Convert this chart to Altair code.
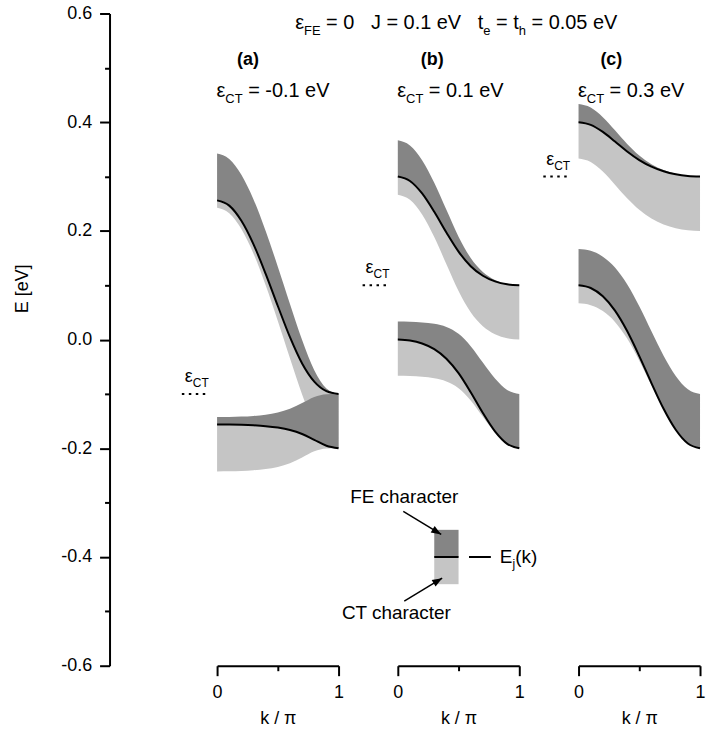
import math
import altair as alt
import pandas as pd

F = "Liberation Sans"

# ---------------- data ----------------
K = [0.0, 0.1, 0.2, 0.3, 0.4, 0.5, 0.6, 0.7, 0.8, 0.9, 1.0]
E_CT = [-0.1, 0.1, 0.3]
TAGS = ["(a)", "(b)", "(c)"]
CT_VALUE_TEXT = [" = -0.1 eV", " = 0.1 eV", " = 0.3 eV"]

# band energies E_j(k) [eV], upper and lower band for each panel
E_UP = [
    [0.2562, 0.2465, 0.2186, 0.1753, 0.1210, 0.0618, 0.0044, -0.0440, -0.0774, -0.0949, -0.1000],
    [0.3000, 0.2919, 0.2689, 0.2351, 0.1969, 0.1618, 0.1351, 0.1175, 0.1071, 0.1017, 0.1000],
    [0.4000, 0.3952, 0.3821, 0.3644, 0.3461, 0.3303, 0.3182, 0.3097, 0.3041, 0.3010, 0.3000],
]
E_LO = [
    [-0.1562, -0.1563, -0.1568, -0.1577, -0.1592, -0.1618, -0.1662, -0.1736, -0.1844, -0.1953, -0.2000],
    [0.0000, -0.0017, -0.0071, -0.0175, -0.0351, -0.0618, -0.0969, -0.1351, -0.1689, -0.1919, -0.2000],
    [0.1000, 0.0950, 0.0797, 0.0533, 0.0158, -0.0303, -0.0800, -0.1273, -0.1659, -0.1912, -0.2000],
]
# FE character (weight) of each band; CT character = 1 - FE
FE_UP = [
    [0.864, 0.860, 0.849, 0.827, 0.789, 0.724, 0.612, 0.432, 0.211, 0.051, 0.0],
    [0.667, 0.654, 0.612, 0.535, 0.418, 0.276, 0.151, 0.069, 0.026, 0.006, 0.0],
    [0.333, 0.317, 0.272, 0.207, 0.139, 0.084, 0.046, 0.022, 0.009, 0.002, 0.0],
]
FE_LO = [
    [0.136, 0.140, 0.151, 0.173, 0.211, 0.276, 0.388, 0.568, 0.789, 0.949, 1.0],
    [0.333, 0.346, 0.388, 0.465, 0.582, 0.724, 0.849, 0.931, 0.974, 0.994, 1.0],
    [0.667, 0.683, 0.728, 0.793, 0.861, 0.916, 0.954, 0.978, 0.991, 0.998, 1.0],
]
BAND_W = 0.1  # total width of a character band [eV]

# legend (in panel (b) data units)
LEG_K = [0.3, 0.5]
LEG_E = [-0.35, -0.40, -0.45]
EJ_LINE_K = [0.586, 0.766]
EJ_TEXT_K = 0.84
ARROWS = [  # k0, E0, k1, E1 (arrow tip at k1, E1)
    (0.045, -0.316, 0.357, -0.3585),
    (0.053, -0.481, 0.365, -0.439),
]

# ---------------- layout constants ----------------
W_PANEL = 122
H_PANEL = 655
PX_K = W_PANEL / 1.0
PX_E = H_PANEL / 1.2
DARK = "#858585"
LIGHT = "#c5c5c5"
FS = 18
NB = "\u00a0"

AW = {' ': 278, NB: 278, '=': 584, '.': 278, '-': 333, 'e': 556, 'V': 667,
      'J': 500, 't': 278, 'h': 556, 'F': 611, 'E': 667, 'C': 722, 'T': 611,
      'j': 222, '(': 333, ')': 333, 'k': 500}


def tw(s, size):
    return sum(AW.get(c, 556) for c in s) * size / 1000.0


# ---------------- tables ----------------
band_rows = []
for p in range(3):
    for band, E, FEw in (("up", E_UP[p], FE_UP[p]), ("lo", E_LO[p], FE_LO[p])):
        for k, e, w in zip(K, E, FEw):
            band_rows.append(dict(panel=p, band=band, k=k, E=e,
                                  lo=e - BAND_W * (1 - w), hi=e + BAND_W * w))
bands = pd.DataFrame(band_rows)


def rich(panel, parts, k0, e0, size, sub, subdy):
    rows = []
    off = 0.0
    for text, kind in parts:
        if kind == "eps":
            rows.append(dict(panel=panel, k=k0, E=e0, t=text, kind=kind, fs=size, dy=0))
            continue
        fs = sub if kind == "sub" else size
        lead = len(text) - len(text.lstrip(" "))
        off += tw(" " * lead, fs)
        body = text.lstrip(" ").replace(" ", NB)
        rows.append(dict(panel=panel, k=k0 + off / PX_K, E=e0, t=body, kind=kind, fs=fs,
                         dy=(subdy if kind == "sub" else 0)))
        off += tw(body, fs)
    return rows


txt_rows = []
for p in range(3):
    txt_rows += rich(p, [("ε", "eps"), ("CT", "sub"), (CT_VALUE_TEXT[p], "main")],
                     0.068, 0.447, 20, 13, 6)
    txt_rows += rich(p, [("ε", "eps"), ("CT", "sub")], -0.2, E_CT[p] + 0.022, 18, 12, 5)
txt_rows += rich(1, [("ε", "eps"), ("FE", "sub"),
                     (" = 0   J = 0.1 eV   t", "main"),
                     ("e", "sub"), (" = t", "main"), ("h", "sub"), (" = 0.05 eV", "main")],
                 -0.772, 0.572, 20, 13, 6)
txt_rows += rich(1, [("E", "main"), ("j", "sub"), ("(k)", "main")], EJ_TEXT_K, -0.4115, 19, 12, 5)
txt = pd.DataFrame(txt_rows)

tags = pd.DataFrame(dict(panel=[0, 1, 2], k=[0.254, 0.283, 0.27], E=[0.514] * 3, t=TAGS))
dots = pd.DataFrame(dict(panel=[0, 1, 2], k=[-0.29] * 3, k1=[-0.075] * 3, E=E_CT))

XS = alt.Scale(domain=[0, 1], nice=False, zero=False)
YS = alt.Scale(domain=[-0.6, 0.6], nice=False, zero=False)

axis_common = dict(grid=False, domainColor="black", domainWidth=2, tickColor="black",
                   tickWidth=2, labelFontSize=FS, titleFontSize=FS, titleFontWeight="normal",
                   labelColor="black", titleColor="black", labelFont=F, titleFont=F,
                   labelFlush=False, labelOverlap=False)

XAX = alt.Axis(values=[0, 0.5, 1], title="k / π",
               labelExpr="datum.value == 0.5 ? '' : format(datum.value, 'd')",
               tickSize={"condition": {"test": "datum.value == 0.5", "value": 5}, "value": 10},
               labelPadding=8, titlePadding=8, **axis_common)

YV = [round(-0.6 + 0.1 * i, 1) for i in range(13)]
YAX = alt.Axis(values=YV, title="E [eV]", offset=108,
               labelExpr="abs(round(datum.value*10)) % 2 == 0 ? replace(format(datum.value, '.1f'), '\u2212', '-') : ''",
               tickSize={"condition": {"test": "abs(round(datum.value*10)) % 2 == 0", "value": 10}, "value": 5},
               labelPadding=8, titlePadding=29, titleY=276, **axis_common)


def ex(field):
    return alt.X(f"{field}:Q", scale=XS, axis=XAX)


def ey(field, p):
    return alt.Y(f"{field}:Q", scale=YS, axis=(YAX if p == 0 else None))


def text_layers(d, p):
    out = []
    for (kind, fs, dy), dd in d.groupby(["kind", "fs", "dy"]):
        out.append(alt.Chart(dd).mark_text(baseline="alphabetic", font=F, color="black",
                                           align=("right" if kind == "eps" else "left"),
                                           fontSize=float(fs), dy=float(dy))
                   .encode(x=ex("k"), y=ey("E", p), text="t:N"))
    return out


def panel(p):
    b = bands[bands.panel == p]
    layers = [
        alt.Chart(b).mark_area(color=LIGHT, interpolate="monotone")
        .encode(x=ex("k"), y=ey("lo", p), y2="E:Q", detail="band:N"),
        alt.Chart(b).mark_area(color=DARK, interpolate="monotone")
        .encode(x=ex("k"), y=ey("E", p), y2="hi:Q", detail="band:N"),
        alt.Chart(b).mark_line(color="black", strokeWidth=2, interpolate="monotone")
        .encode(x=ex("k"), y=ey("E", p), detail="band:N"),
        alt.Chart(dots[dots.panel == p]).mark_rule(color="black", strokeWidth=2, strokeDash=[2.5, 4.5])
        .encode(x=ex("k"), x2="k1:Q", y=ey("E", p)),
        alt.Chart(tags[tags.panel == p]).mark_text(font=F, fontSize=FS, fontWeight="bold",
                                                   align="center", baseline="middle", color="black")
        .encode(x=ex("k"), y=ey("E", p), text="t:N"),
    ]
    layers += text_layers(txt[txt.panel == p], p)
    if p == 1:
        leg = pd.DataFrame(dict(k=[LEG_K[0]] * 2, k1=[LEG_K[1]] * 2,
                                E=[LEG_E[1], LEG_E[1]], E2=[LEG_E[0], LEG_E[2]],
                                c=["FE", "CT"]))
        layers.append(alt.Chart(leg).mark_rect()
                      .encode(x=ex("k"), x2="k1:Q", y=ey("E", p), y2="E2:Q",
                              color=alt.Color("c:N", scale=alt.Scale(domain=["FE", "CT"], range=[DARK, LIGHT]),
                                              legend=None)))
        ln = pd.DataFrame(dict(k=[LEG_K[0], EJ_LINE_K[0]], k1=[LEG_K[1], EJ_LINE_K[1]], E=[LEG_E[1]] * 2))
        layers.append(alt.Chart(ln).mark_rule(color="black", strokeWidth=2)
                      .encode(x=ex("k"), x2="k1:Q", y=ey("E", p)))
        ar = pd.DataFrame([dict(k=a[0], E=a[1], k1=a[2], E1=a[3],
                                ang=math.degrees(math.atan2((a[2] - a[0]) * PX_K, (a[3] - a[1]) * PX_E)))
                           for a in ARROWS])
        layers.append(alt.Chart(ar).mark_rule(color="black", strokeWidth=1.5)
                      .encode(x=ex("k"), x2="k1:Q", y=ey("E", p), y2="E1:Q"))
        layers.append(alt.Chart(ar).mark_point(shape="M0,0 L0.38,1 L-0.38,1 Z", filled=True,
                                               color="black", size=400, opacity=1)
                      .encode(x=ex("k1"), y=ey("E1", p), angle=alt.Angle("ang:Q", scale=None)))
        lab = pd.DataFrame(dict(k=[0.053, -0.012], E=[-0.289, -0.503], t=["FE character", "CT character"]))
        layers.append(alt.Chart(lab).mark_text(font=F, fontSize=19, align="center", baseline="middle",
                                               color="black")
                      .encode(x=ex("k"), y=ey("E", p), text="t:N"))
    return alt.layer(*layers).properties(width=W_PANEL, height=H_PANEL)


chart = alt.hconcat(panel(0), panel(1), panel(2), spacing=59.5, bounds="flush").properties(
    padding={"left": 13, "top": 3, "right": 0, "bottom": 0}, background="white"
).configure_view(stroke=None)

chart.save("out.html", embed_options={"renderer": "svg", "actions": False})
